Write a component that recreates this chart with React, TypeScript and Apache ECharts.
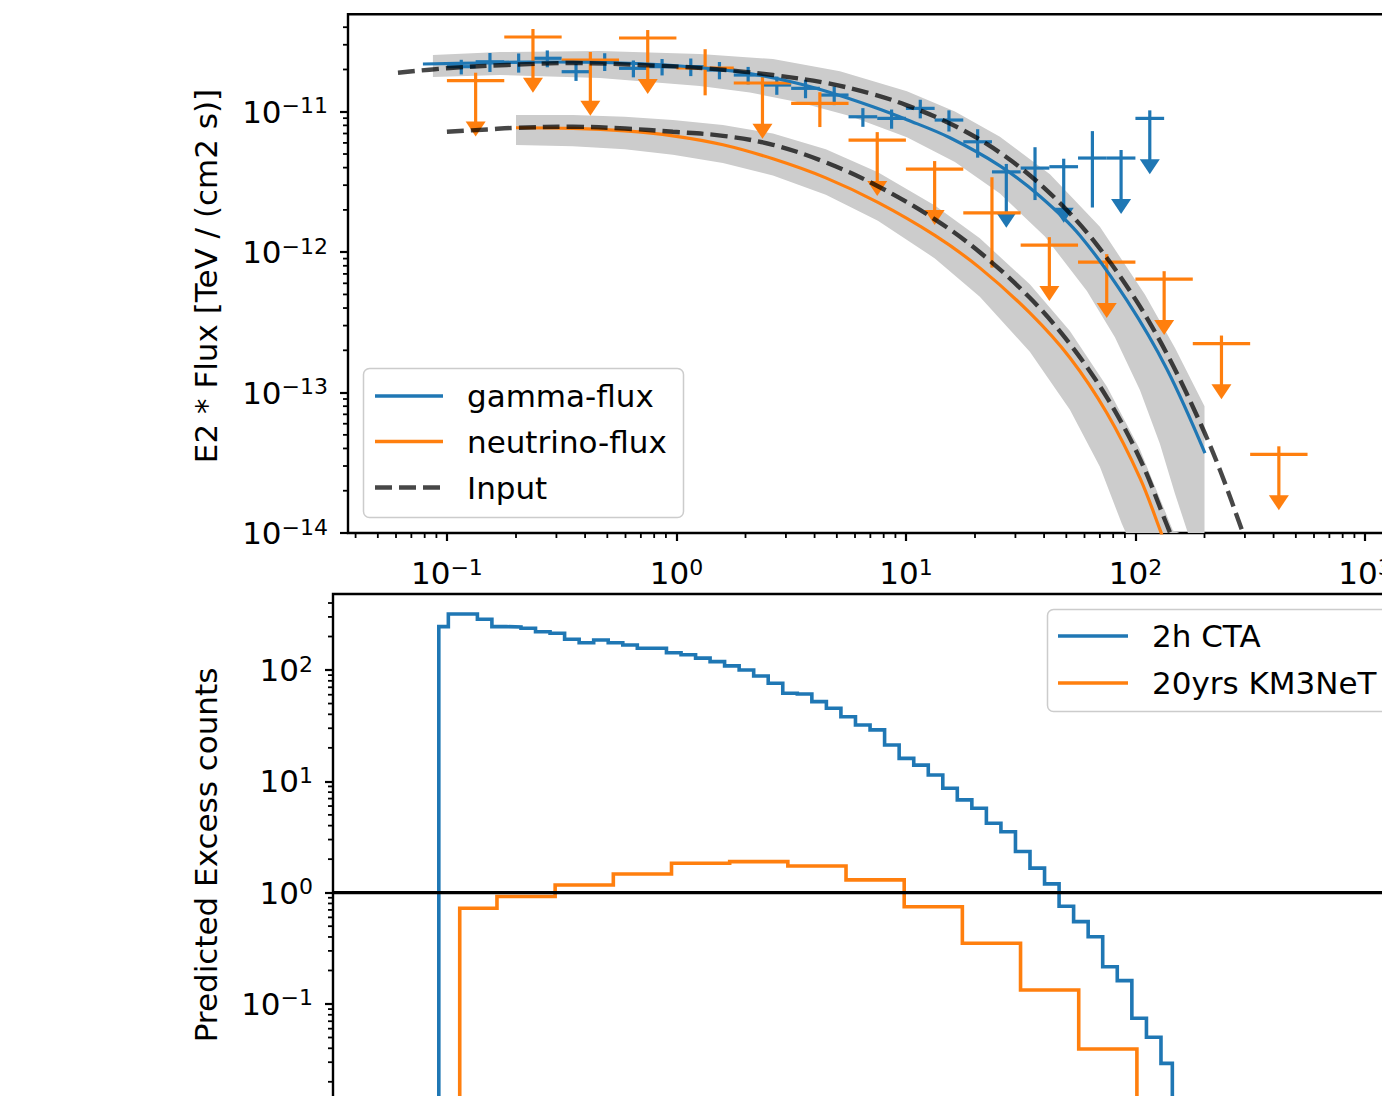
import React, { useEffect, useRef } from "react";
import * as echarts from "echarts";

const FONT = "DejaVu Sans";
const BLUE = "#1f77b4";
const ORANGE = "#ff7f0e";
const BAND = "#cccccc";
const DASH = "rgba(0,0,0,0.72)";

// ---------- top panel: E^2 flux [TeV / (cm2 s)] vs energy [TeV] ----------
const gammaEdges = [0.1, 0.1334, 0.1778, 0.2371, 0.3162, 0.4217, 0.5623, 0.7499, 1, 1.334, 1.778, 2.371, 3.162, 4.217, 5.623, 7.499, 10, 13.34, 17.78, 23.71, 31.62, 42.17, 56.23, 74.99, 100, 133.4];
const gammaE = [0.1155, 0.154, 0.2054, 0.2738, 0.3652, 0.487, 0.6494, 0.866, 1.155, 1.54, 2.054, 2.738, 3.652, 4.87, 6.494, 8.66, 11.55, 15.4, 20.54, 27.38, 36.52, 48.7, 64.94, 86.6, 115.5];
const gammaFlux = [2.094e-11, 2.27e-11, 2.25e-11, 2.403e-11, 1.928e-11, 2.28e-11, 2.038e-11, 2.094e-11, 2.094e-11, 1.982e-11, 1.826e-11, 1.55e-11, 1.468e-11, 1.315e-11, 9.21e-12, 8.97e-12, 1.057e-11, 8.73e-12, 6.11e-12, 3.73e-12, 3.97e-12, 4.06e-12, 4.68e-12, 4.68e-12, 8.97e-12];
const gammaErrLo = [2.5e-12, 3.5e-12, 3.5e-12, 3.3e-12, 2.7e-12, 3.3e-12, 2.8e-12, 2.8e-12, 3.0e-12, 2.8e-12, 2.6e-12, 2.3e-12, 2.2e-12, 2.0e-12, 1.4e-12, 1.4e-12, 1.6e-12, 1.5e-12, 1.4e-12, 2.24e-12, 1.62e-12, 2.44e-12, 2.6e-12, 2.81e-12, 5.38e-12];
const gammaErrHi = [2.5e-12, 3.5e-12, 3.5e-12, 3.3e-12, 2.7e-12, 3.3e-12, 2.8e-12, 2.8e-12, 3.0e-12, 2.8e-12, 2.6e-12, 2.3e-12, 2.2e-12, 2.0e-12, 1.4e-12, 1.4e-12, 1.6e-12, 1.5e-12, 1.4e-12, 5.2e-13, 1.62e-12, 5.7e-13, 2.6e-12, 6.6e-13, 1.26e-12];
const gammaUL = [0, 0, 0, 0, 0, 0, 0, 0, 0, 0, 0, 0, 0, 0, 0, 0, 0, 0, 0, 1, 0, 1, 0, 1, 1];

const nuEdges = [0.1, 0.1778, 0.3162, 0.5623, 1, 1.778, 3.162, 5.623, 10, 17.78, 31.62, 56.23, 100, 177.8, 316.2, 562.3];
const nuE = [0.1334, 0.2371, 0.4217, 0.7499, 1.334, 2.371, 4.217, 7.499, 13.34, 23.71, 42.17, 74.99, 133.4, 237.1, 421.7];
const nuFlux = [1.664e-11, 3.406e-11, 2.336e-11, 3.35e-11, 2.049e-11, 1.602e-11, 1.148e-11, 6.28e-12, 3.904e-12, 1.906e-12, 1.122e-12, 8.49e-13, 6.42e-13, 2.235e-13, 3.634e-14];
const nuErrLo = [9.98e-12, 2.04e-11, 1.4e-11, 2.01e-11, 7.4e-12, 9.61e-12, 3.7e-12, 3.77e-12, 2.34e-12, 1.13e-12, 6.73e-13, 5.09e-13, 3.85e-13, 1.34e-13, 2.18e-14];
const nuErrHi = [2.33e-12, 4.77e-12, 3.27e-12, 4.69e-12, 7.4e-12, 2.24e-12, 2.3e-12, 8.8e-13, 5.5e-13, 1.51e-12, 1.57e-13, 1.19e-13, 9.0e-14, 3.13e-14, 5.1e-15];
const nuUL = [1, 1, 1, 1, 0, 1, 0, 1, 1, 0, 1, 1, 1, 1, 1];

const inputGammaE = [0.0612, 0.1031, 0.1826, 0.354, 0.6934, 1.358, 2.634, 4.528, 7.18, 10.1, 15.39, 22.32, 32.35, 46.88, 67.97, 101.5, 141.3, 194.9, 235.8, 291.1, 297];
const inputGammaFlux = [1.897e-11, 2.049e-11, 2.153e-11, 2.223e-11, 2.153e-11, 2.035e-11, 1.826e-11, 1.599e-11, 1.335e-11, 1.111e-11, 8.31e-12, 5.95e-12, 3.866e-12, 2.239e-12, 1.127e-12, 4.44e-13, 1.719e-13, 5.71e-14, 2.7e-14, 1.05e-14, 9.6e-15];
const inputNuE = [0.1, 0.15, 0.2, 0.354, 0.596, 0.965, 1.594, 2.634, 4.477, 7.55, 13.37, 20.99, 34.67, 51.83, 75.2, 104.6, 137.2, 141.3];
const inputNuFlux = [7.2e-12, 7.48e-12, 7.69e-12, 7.82e-12, 7.59e-12, 7.2e-12, 6.74e-12, 5.82e-12, 4.36e-12, 2.95e-12, 1.714e-12, 9.98e-13, 4.73e-13, 2.22e-13, 9.21e-14, 3.38e-14, 1.14e-14, 1.01e-14];

const gammaFitE = [0.0786, 0.1393, 0.2811, 0.5674, 1.036, 1.891, 3.124, 4.528, 7.18, 10.1, 15.55, 25.68, 38.36, 57.31, 91.83, 137.2, 200.9];
const gammaFitFlux = [2.188e-11, 2.224e-11, 2.261e-11, 2.224e-11, 2.117e-11, 1.919e-11, 1.641e-11, 1.393e-11, 1.085e-11, 8.78e-12, 6.53e-12, 4.12e-12, 2.502e-12, 1.315e-12, 4.53e-13, 1.466e-13, 3.71e-14];
const nuFitE = [0.2, 0.354, 0.596, 0.965, 1.594, 2.634, 4.477, 7.55, 13.37, 20.99, 34.67, 51.83, 75.2, 104.6, 128.4, 133.8];
const nuFitFlux = [7.69e-12, 7.61e-12, 7.3e-12, 6.74e-12, 5.82e-12, 4.62e-12, 3.38e-12, 2.26e-12, 1.315e-12, 7.73e-13, 3.69e-13, 1.77e-13, 7.12e-14, 2.47e-14, 1.04e-14, 8.5e-15];

const gammaBandHiE = [0.0869, 0.1702, 0.4642, 1.266, 2.634, 5.158, 10.1, 16.35, 25.68, 42.42, 70.02, 110, 148.6, 200];
const gammaBandHi = [2.537e-11, 2.662e-11, 2.706e-11, 2.577e-11, 2.372e-11, 1.944e-11, 1.397e-11, 1.003e-11, 6.63e-12, 3.585e-12, 1.515e-12, 5.0e-13, 2.083e-13, 8.0e-14];
const gammaBandLoE = [0.0869, 0.1702, 0.4642, 1.266, 2.091, 3.452, 5.702, 10.1, 16.35, 25.68, 40.34, 61.46, 81.4, 104.6, 127.9, 148.6, 169.3, 200];
const gammaBandLo = [1.767e-11, 1.826e-11, 1.738e-11, 1.525e-11, 1.37e-11, 1.163e-11, 9.32e-12, 6.59e-12, 4.38e-12, 2.612e-12, 1.294e-12, 5.28e-13, 2.474e-13, 1.045e-13, 4.31e-14, 1.912e-14, 8.5e-15, 2e-15];
const nuBandHiE = [0.2, 0.354, 0.596, 0.965, 1.594, 2.634, 4.477, 7.55, 13.37, 20.99, 34.67, 51.83, 75.2, 104.6, 145.7, 156, 200];
const nuBandHi = [9.47e-12, 9.47e-12, 9.23e-12, 8.74e-12, 8.05e-12, 7.0e-12, 5.4e-12, 3.705e-12, 2.152e-12, 1.256e-12, 5.9e-13, 2.74e-13, 1.1e-13, 3.94e-14, 1.04e-14, 5e-15, 1e-15];
const nuBandLoE = [0.2, 0.354, 0.596, 0.965, 1.594, 2.634, 4.477, 7.55, 13.37, 20.99, 34.67, 51.83, 70.02, 87.35, 90.9, 200];
const nuBandLo = [5.79e-12, 5.69e-12, 5.4e-12, 4.95e-12, 4.31e-12, 3.51e-12, 2.565e-12, 1.674e-12, 9.03e-13, 4.82e-13, 1.954e-13, 7.54e-14, 2.96e-14, 1.157e-14, 9e-15, 1e-15];

// ---------- bottom panel: predicted excess counts per energy bin ----------
const ctaEdges = [0.1, 0.1099, 0.1269, 0.1465, 0.1691, 0.1953, 0.2255, 0.2604, 0.3007, 0.3472, 0.401, 0.463, 0.5346, 0.6174, 0.7129, 0.8234, 0.9513, 1.099, 1.269, 1.465, 1.691, 1.953, 2.255, 2.604, 3.007, 3.472, 4.01, 4.63, 5.346, 6.174, 7.133, 8.236, 9.512, 10.99, 12.69, 14.65, 16.91, 19.53, 22.55, 26.04, 30.07, 34.72, 40.1, 46.3, 53.46, 61.74, 71.29, 82.34, 95.13, 109.9, 126.9, 142];
const ctaCounts = [245.5, 319, 319, 286, 245.5, 244, 237.5, 221, 214, 189, 176, 186, 176, 168, 157, 157, 143, 137, 128, 119, 109, 100, 88.5, 76.1, 61.9, 61, 52, 45.4, 38.1, 32.1, 29.0, 21.2, 16.1, 14.0, 11.4, 8.67, 6.81, 5.73, 4.2, 3.53, 2.34, 1.66, 1.2, 0.755, 0.549, 0.402, 0.216, 0.162, 0.0744, 0.0502, 0.0293];
const km3Edges = [0.123, 0.1778, 0.3162, 0.5623, 1, 1.778, 3.162, 5.623, 10, 17.78, 31.62, 56.23, 100];
const km3Counts = [0.724, 0.924, 1.173, 1.472, 1.837, 1.899, 1.738, 1.303, 0.748, 0.351, 0.1336, 0.0394];

// ---------- axes (log10 units) ----------
const topXTicks = [-1, 0, 1, 2, 3];
const topYTicks = [-14, -13, -12, -11];
const botYTicks = [-2, -1, 0, 1, 2];
const botYLabels = [-1, 0, 1, 2];
const minorMult = [2, 3, 4, 5, 6, 7, 8, 9];

const X0_MIN = -1.431, X0_MAX = 3.24, Y0_MIN = -14, Y0_MAX = -10.306;
const X1_MIN = -1.4547, X1_MAX = 3.2166, Y1_MIN = -2.6, Y1_MAX = 2.683;

const lg = Math.log10;

function minorTicks(decades: number[], lo: number, hi: number) {
  const out: number[] = [];
  decades.forEach((d) => minorMult.forEach((m) => {
    const v = d + lg(m);
    if (v > lo && v < hi) out.push(v);
  }));
  return out;
}

function supLabel(v: number) {
  const n = Math.round(v);
  const s = n < 0 ? "\u2212" + Math.abs(n) : String(n);
  return `{m|10}{s|${s}}`;
}

const rich = {
  m: { fontFamily: FONT, fontSize: 31, color: "#000", lineHeight: 34 },
  s: { fontFamily: FONT, fontSize: 22, color: "#000", lineHeight: 22, verticalAlign: "top" },
};

function tickSeries(xIdx: number, yIdx: number, positions: number[], axis: "x" | "y", fixed: number) {
  return {
    type: "custom",
    xAxisIndex: xIdx,
    yAxisIndex: yIdx,
    silent: true,
    clip: false,
    z: 5,
    data: positions.map((v) => (axis === "x" ? [v, fixed] : [fixed, v])),
    renderItem: (_p: any, api: any) => {
      const p = api.coord([api.value(0), api.value(1)]);
      const shape = axis === "x"
        ? { x1: p[0], y1: p[1], x2: p[0], y2: p[1] + 5 }
        : { x1: p[0] - 5, y1: p[1], x2: p[0], y2: p[1] };
      return { type: "line", shape, style: { stroke: "#000", lineWidth: 1.8 } };
    },
  };
}

function bandSeries(Eup: number[], up: number[], Elo: number[], lo: number[]) {
  const upper = Eup.map((e, i) => [lg(e), Math.max(lg(up[i]), Y0_MIN)]);
  const lower = Elo.map((e, i) => [lg(e), Math.max(lg(lo[i]), Y0_MIN)]);
  const rows = upper.concat(lower.slice().reverse());
  return {
    type: "custom",
    xAxisIndex: 0,
    yAxisIndex: 0,
    silent: true,
    clip: true,
    data: rows,
    renderItem: (params: any, api: any) => {
      if (params.dataIndex !== 0) return { type: "group", children: [] };
      const pts = rows.map((r) => api.coord([r[0], r[1]]));
      return { type: "polygon", shape: { points: pts }, style: { fill: BAND } };
    },
  };
}

function errSeries(E: number[], edges: number[], F: number[], lo: number[], hi: number[], ul: number[], color: string) {
  const rows = E.map((e, i) => [lg(e), lg(edges[i]), lg(edges[i + 1]), lg(F[i]), lg(F[i] - lo[i]), lg(F[i] + hi[i]), ul[i]]);
  return {
    type: "custom",
    xAxisIndex: 0,
    yAxisIndex: 0,
    silent: true,
    clip: false,
    data: rows,
    renderItem: (_p: any, api: any) => {
      const x = api.value(0), y = api.value(3);
      const pl = api.coord([api.value(1), y]);
      const ph = api.coord([api.value(2), y]);
      const pt = api.coord([x, api.value(5)]);
      const pb = api.coord([x, api.value(4)]);
      const isUL = api.value(6) === 1;
      const st = { stroke: color, lineWidth: 3.2 };
      const children: any[] = [
        { type: "line", shape: { x1: pl[0], y1: pl[1], x2: ph[0], y2: ph[1] }, style: st },
        { type: "line", shape: { x1: pt[0], y1: pt[1], x2: pb[0], y2: isUL ? pb[1] - 8 : pb[1] }, style: st },
      ];
      if (isUL) {
        children.push({
          type: "polygon",
          shape: { points: [[pb[0] - 10, pb[1] - 15], [pb[0] + 10, pb[1] - 15], [pb[0], pb[1]]] },
          style: { fill: color },
        });
      }
      return { type: "group", children };
    },
  };
}

function lineSeries(E: number[], F: number[], color: string, width: number, dashed: boolean) {
  return {
    type: "line",
    xAxisIndex: 0,
    yAxisIndex: 0,
    silent: true,
    symbol: "none",
    smooth: 0.35,
    clip: true,
    data: E.map((e, i) => [lg(e), lg(F[i])]),
    lineStyle: { color, width, type: dashed ? [17, 7] : "solid", cap: "butt" },
  };
}

function stepSeries(edges: number[], counts: number[], color: string) {
  const floor = -3.5;
  const pts: number[][] = [[lg(edges[0]), floor]];
  counts.forEach((c, i) => {
    pts.push([lg(edges[i]), lg(c)]);
    pts.push([lg(edges[i + 1]), lg(c)]);
  });
  pts.push([lg(edges[edges.length - 1]), floor]);
  return {
    type: "line",
    xAxisIndex: 1,
    yAxisIndex: 1,
    silent: true,
    symbol: "none",
    clip: true,
    data: pts,
    lineStyle: { color, width: 3.6, join: "miter" },
  };
}

export default function App() {
  const ref = useRef<HTMLDivElement>(null);

  useEffect(() => {
    if (!ref.current) return;
    const chart = echarts.init(ref.current, null, { renderer: "svg" });

    const tickStyle = { color: "#000", width: 2.2 };
    const gridBase = { show: true, borderColor: "#000", borderWidth: 2.4, backgroundColor: "transparent", containLabel: false, outerBoundsMode: "none" };
    const hiddenLine = { show: false, onZero: false };

    const option: any = {
      animation: false,
      backgroundColor: "#ffffff",
      textStyle: { fontFamily: FONT },
      grid: [
        { ...gridBase, left: 348, top: 14.3, right: 1382 - 1420, bottom: 1096 - 533 },
        { ...gridBase, left: 333, top: 594, right: 1382 - 1420, bottom: 1096 - 1182.1 },
      ],
      xAxis: [
        {
          type: "value", gridIndex: 0, min: X0_MIN, max: X0_MAX, position: "bottom",
          axisLine: hiddenLine, splitLine: { show: false },
          axisTick: { show: true, customValues: topXTicks, length: 8, lineStyle: tickStyle },
          axisLabel: { show: true, customValues: topXTicks, formatter: supLabel, margin: 23, rich, fontFamily: FONT, fontSize: 31, color: "#000" },
        },
        {
          type: "value", gridIndex: 1, min: X1_MIN, max: X1_MAX, show: false, position: "bottom",
          axisLine: hiddenLine, splitLine: { show: false }, axisTick: { show: false }, axisLabel: { show: false },
        },
      ],
      yAxis: [
        {
          type: "value", gridIndex: 0, min: Y0_MIN, max: Y0_MAX, position: "left",
          axisLine: hiddenLine, splitLine: { show: false },
          axisTick: { show: true, customValues: topYTicks, length: 8, lineStyle: tickStyle },
          axisLabel: { show: true, customValues: topYTicks, formatter: supLabel, margin: 20, rich, fontFamily: FONT, fontSize: 31, color: "#000" },
        },
        {
          type: "value", gridIndex: 1, min: Y1_MIN, max: Y1_MAX, position: "left",
          axisLine: hiddenLine, splitLine: { show: false },
          axisTick: { show: true, customValues: botYTicks, length: 8, lineStyle: tickStyle },
          axisLabel: { show: true, customValues: botYLabels, formatter: supLabel, margin: 20, rich, fontFamily: FONT, fontSize: 31, color: "#000" },
        },
      ],
      series: [
        bandSeries(gammaBandHiE, gammaBandHi, gammaBandLoE, gammaBandLo),
        bandSeries(nuBandHiE, nuBandHi, nuBandLoE, nuBandLo),
        lineSeries(gammaFitE, gammaFitFlux, BLUE, 3.2, false),
        lineSeries(nuFitE, nuFitFlux, ORANGE, 3.2, false),
        errSeries(gammaE, gammaEdges, gammaFlux, gammaErrLo, gammaErrHi, gammaUL, BLUE),
        errSeries(nuE, nuEdges, nuFlux, nuErrLo, nuErrHi, nuUL, ORANGE),
        lineSeries(inputGammaE, inputGammaFlux, DASH, 4.4, true),
        lineSeries(inputNuE, inputNuFlux, DASH, 4.4, true),
        stepSeries(ctaEdges, ctaCounts, BLUE),
        stepSeries(km3Edges, km3Counts, ORANGE),
        {
          type: "line", xAxisIndex: 1, yAxisIndex: 1, silent: true, symbol: "none",
          data: [[X1_MIN, 0], [X1_MAX, 0]],
          lineStyle: { color: "#000", width: 3.4 },
        },
        tickSeries(0, 0, minorTicks([-2, -1, 0, 1, 2, 3], X0_MIN, X0_MAX), "x", Y0_MIN),
        tickSeries(0, 0, minorTicks([-15, -14, -13, -12, -11], Y0_MIN, Y0_MAX), "y", X0_MIN),
        tickSeries(1, 1, minorTicks([-3, -2, -1, 0, 1, 2], Y1_MIN, Y1_MAX), "y", X1_MIN),
      ],
      graphic: [
        {
          type: "text", x: 206, y: 276, rotation: Math.PI / 2, z: 100,
          style: { text: "E2 * Flux [TeV / (cm2 s)]", fontFamily: FONT, fontSize: 31, fill: "#000", align: "center", verticalAlign: "middle" },
        },
        {
          type: "text", x: 206, y: 855, rotation: Math.PI / 2, z: 100,
          style: { text: "Predicted Excess counts", fontFamily: FONT, fontSize: 31, fill: "#000", align: "center", verticalAlign: "middle" },
        },
        // top legend
        { type: "rect", z: 100, shape: { x: 363.5, y: 368.5, width: 320, height: 149, r: 6 }, style: { fill: "rgba(255,255,255,0.8)", stroke: "#cccccc", lineWidth: 1.5 } },
        { type: "line", z: 101, shape: { x1: 375, y1: 396, x2: 443, y2: 396 }, style: { stroke: BLUE, lineWidth: 3.4 } },
        { type: "line", z: 101, shape: { x1: 375, y1: 441.5, x2: 443, y2: 441.5 }, style: { stroke: ORANGE, lineWidth: 3.4 } },
        { type: "line", z: 101, shape: { x1: 375, y1: 487.5, x2: 443, y2: 487.5 }, style: { stroke: DASH, lineWidth: 4.4, lineDash: [17, 7] } },
        { type: "text", z: 101, x: 467, y: 396, style: { text: "gamma-flux", fontFamily: FONT, fontSize: 31, fill: "#000", align: "left", verticalAlign: "middle" } },
        { type: "text", z: 101, x: 467, y: 441.5, style: { text: "neutrino-flux", fontFamily: FONT, fontSize: 31, fill: "#000", align: "left", verticalAlign: "middle" } },
        { type: "text", z: 101, x: 467, y: 487.5, style: { text: "Input", fontFamily: FONT, fontSize: 31, fill: "#000", align: "left", verticalAlign: "middle" } },
        // bottom legend
        { type: "rect", z: 100, shape: { x: 1047.5, y: 609.5, width: 380, height: 102, r: 6 }, style: { fill: "rgba(255,255,255,0.8)", stroke: "#cccccc", lineWidth: 1.5 } },
        { type: "line", z: 101, shape: { x1: 1058, y1: 636, x2: 1128, y2: 636 }, style: { stroke: BLUE, lineWidth: 3.6 } },
        { type: "line", z: 101, shape: { x1: 1058, y1: 683, x2: 1128, y2: 683 }, style: { stroke: ORANGE, lineWidth: 3.6 } },
        { type: "text", z: 101, x: 1152, y: 636, style: { text: "2h CTA", fontFamily: FONT, fontSize: 31, fill: "#000", align: "left", verticalAlign: "middle" } },
        { type: "text", z: 101, x: 1152, y: 683, style: { text: "20yrs KM3NeT", fontFamily: FONT, fontSize: 31, fill: "#000", align: "left", verticalAlign: "middle" } },
      ],
    };

    chart.setOption(option);
    return () => chart.dispose();
  }, []);

  return (
    <div
      ref={ref}
      style={{ position: "fixed", left: 0, top: 0, width: 1382, height: 1096, background: "#fff", overflow: "hidden" }}
    />
  );
}
